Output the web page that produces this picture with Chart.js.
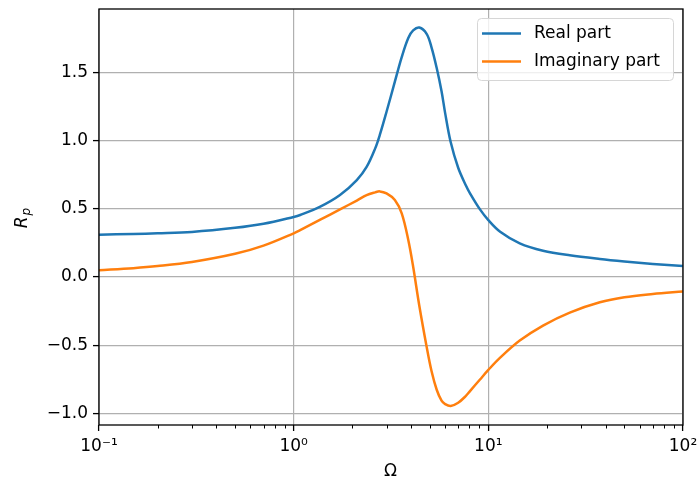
<!DOCTYPE html>
<html>
<head>
<meta charset="utf-8">
<script src="https://cdn.jsdelivr.net/npm/chart.js@4/dist/chart.umd.min.js"></script>
<style>
  html, body { margin: 0; padding: 0; background: #fff; }
  #wrap { width: 697px; height: 482px; }
</style>
</head>
<body>
<div id="wrap"><canvas id="chart" width="697" height="482"></canvas></div>
<script>
// values
const omega = [0.1, 0.15, 0.2, 0.3, 0.5, 0.7, 1.0, 1.08, 1.37, 1.73, 2.11, 2.37, 2.62, 2.77, 3.0,
               3.31, 3.59, 3.88, 4.11, 4.42, 4.82, 5.11, 5.43, 5.75, 6.0, 6.4, 7.0, 7.67, 8.05,
               9.06, 10, 11.5, 14.5, 19.1, 26.2, 37.4, 50, 70, 100];
const realPart = [0.31, 0.315, 0.32, 0.33, 0.36, 0.39, 0.44, 0.454, 0.515, 0.60, 0.71, 0.806, 0.94, 1.04, 1.21,
                  1.43, 1.61, 1.75, 1.805, 1.826, 1.78, 1.68, 1.53, 1.36, 1.20, 0.99, 0.80, 0.67, 0.613,
                  0.495, 0.417, 0.332, 0.247, 0.193, 0.159, 0.132, 0.114, 0.096, 0.08];
const imagPart = [0.05, 0.065, 0.08, 0.11, 0.17, 0.23, 0.32, 0.344, 0.42, 0.495, 0.56, 0.60, 0.62, 0.627, 0.612,
                  0.564, 0.466, 0.271, 0.075, -0.21, -0.51, -0.69, -0.825, -0.905, -0.93, -0.944, -0.92, -0.87, -0.835,
                  -0.75, -0.68, -0.59, -0.465, -0.355, -0.26, -0.185, -0.148, -0.124, -0.105];

const xTicks = [0.1, 1, 10, 100];
const xTickLabels = ['10⁻¹', '10⁰', '10¹', '10²'];
const yTicks = [-1.0, -0.5, 0.0, 0.5, 1.0, 1.5];
const seriesNames = ['Real part', 'Imaginary part'];
const seriesColors = ['#1f77b4', '#ff7f0e'];

const FONT = "'DejaVu Sans', sans-serif";
Chart.defaults.font.family = FONT;
Chart.defaults.font.size = 17;
Chart.defaults.color = '#000';

const pts = ys => omega.map((x, i) => ({ x: x, y: ys[i] }));

// frame, minor ticks, axis titles and legend, drawn on top like matplotlib does
const decorations = {
    id: 'decorations',
    afterDraw(chart) {
        const { ctx, chartArea: a } = chart;
        const xs = chart.scales.x;
        ctx.save();

        // minor log ticks on the bottom axis
        ctx.strokeStyle = '#000';
        ctx.lineWidth = 1;
        for (let d = -1; d < 2; d++) {
            for (let k = 2; k < 10; k++) {
                const px = Math.round(xs.getPixelForValue(k * Math.pow(10, d))) + 0.5;
                ctx.beginPath();
                ctx.moveTo(px, a.bottom);
                ctx.lineTo(px, a.bottom + 3.5);
                ctx.stroke();
            }
        }

        // spines
        ctx.lineWidth = 1.3;
        ctx.strokeRect(a.left, a.top, a.right - a.left, a.bottom - a.top);

        // x title
        ctx.fillStyle = '#000';
        ctx.font = '17px ' + FONT;
        ctx.textAlign = 'center';
        ctx.textBaseline = 'middle';
        ctx.fillText('Ω', (a.left + a.right) / 2 - 0.5, 472);

        // y title R_p, rotated
        ctx.save();
        ctx.translate(27, 218);
        ctx.rotate(-Math.PI / 2);
        ctx.textAlign = 'left';
        ctx.textBaseline = 'alphabetic';
        ctx.font = 'italic 17px ' + FONT;
        const wR = ctx.measureText('R').width;
        ctx.font = 'italic 12px ' + FONT;
        const wp = ctx.measureText('p').width;
        const x0 = -(wR + wp + 1) / 2;
        ctx.font = 'italic 17px ' + FONT;
        ctx.fillText('R', x0, 0);
        ctx.font = 'italic 12px ' + FONT;
        ctx.fillText('p', x0 + wR + 1, 3);
        ctx.restore();

        // legend box
        const bx = 477.5, by = 18.5, bw = 196, bh = 62, r = 4;
        ctx.beginPath();
        ctx.moveTo(bx + r, by);
        ctx.arcTo(bx + bw, by, bx + bw, by + bh, r);
        ctx.arcTo(bx + bw, by + bh, bx, by + bh, r);
        ctx.arcTo(bx, by + bh, bx, by, r);
        ctx.arcTo(bx, by, bx + bw, by, r);
        ctx.closePath();
        ctx.fillStyle = 'rgba(255,255,255,0.8)';
        ctx.fill();
        ctx.strokeStyle = '#d6d6d6';
        ctx.lineWidth = 1;
        ctx.stroke();

        chart.data.datasets.forEach((ds, i) => {
            const ly = 33.5 + i * 28;
            ctx.strokeStyle = ds.borderColor;
            ctx.lineWidth = 2.5;
            ctx.beginPath();
            ctx.moveTo(482, ly);
            ctx.lineTo(521, ly);
            ctx.stroke();
            ctx.fillStyle = '#000';
            ctx.font = '17px ' + FONT;
            ctx.textAlign = 'left';
            ctx.textBaseline = 'middle';
            ctx.fillText(ds.label, 534, ly);
        });

        ctx.restore();
    }
};

new Chart(document.getElementById('chart'), {
    type: 'line',
    data: {
        datasets: [
            { label: seriesNames[0], data: pts(realPart), borderColor: seriesColors[0] },
            { label: seriesNames[1], data: pts(imagPart), borderColor: seriesColors[1] },
        ].map(ds => ({ ...ds, borderWidth: 2.5, pointRadius: 0, fill: false, tension: 0.35 })),
    },
    options: {
        responsive: false,
        animation: false,
        devicePixelRatio: 1,
        layout: { padding: { top: 9, right: 14, left: 0, bottom: 0 } },
        plugins: { legend: { display: false }, tooltip: { enabled: false } },
        scales: {
            x: {
                type: 'logarithmic',
                min: 0.1,
                max: 100,
                afterBuildTicks: s => { s.ticks = xTicks.map(v => ({ value: v })); },
                afterFit: s => { s.height = 57; s.paddingLeft = 0; s.paddingRight = 0; },
                ticks: {
                    autoSkip: false,
                    maxRotation: 0,
                    padding: 5,
                    callback: (v, i) => xTickLabels[i],
                },
                grid: { color: '#b0b0b0', lineWidth: 1.2, tickColor: '#000', tickLength: 6, tickWidth: 1.3 },
                border: { display: false },
            },
            y: {
                type: 'linear',
                min: -1.083,
                max: 1.962,
                afterBuildTicks: s => { s.ticks = yTicks.map(v => ({ value: v })); },
                afterFit: s => { s.width = 99; s.paddingTop = 0; s.paddingBottom = 0; },
                ticks: {
                    padding: 5,
                    callback: v => v.toFixed(1).replace('-', '−'),
                },
                grid: { color: '#b0b0b0', lineWidth: 1.2, tickColor: '#000', tickLength: 6, tickWidth: 1.3 },
                border: { display: false },
            },
        },
    },
    plugins: [decorations],
});
</script>
</body>
</html>
